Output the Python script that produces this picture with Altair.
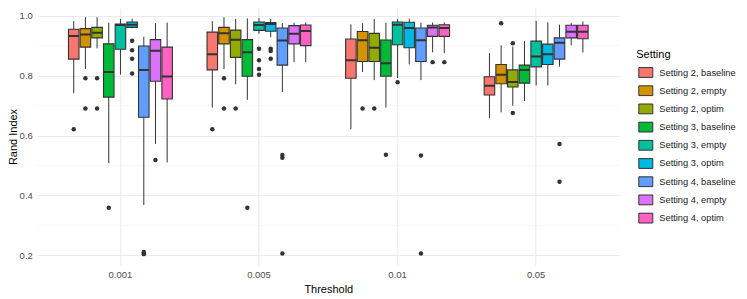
import altair as alt
import pandas as pd

thresholds = ["0.001", "0.005", "0.01", "0.05"]
settings = ["Setting 2, baseline", "Setting 2, empty", "Setting 2, optim",
            "Setting 3, baseline", "Setting 3, empty", "Setting 3, optim",
            "Setting 4, baseline", "Setting 4, empty", "Setting 4, optim"]
colors = ["#F8766D", "#D39200", "#93AA00", "#00BA38", "#00C19F",
          "#00B9E3", "#619CFF", "#DB72FB", "#FF61C3"]

# box statistics, threshold-major, setting-minor
lo = [0.741, 0.822, 0.891, 0.508, 0.803, 0.958, 0.368, 0.572, 0.510,
      0.693, 0.822, 0.771, 0.719, 0.940, 0.928, 0.745, 0.845, 0.845,
      0.621, 0.812, 0.785, 0.693, 0.792, 0.837, 0.785, 0.878, 0.875,
      0.658, 0.677, 0.699, 0.715, 0.767, 0.767, 0.830, 0.901, 0.877]
q1 = [0.855, 0.895, 0.926, 0.728, 0.888, 0.961, 0.661, 0.781, 0.722,
      0.819, 0.906, 0.861, 0.798, 0.951, 0.948, 0.835, 0.906, 0.900,
      0.791, 0.847, 0.847, 0.798, 0.903, 0.893, 0.847, 0.931, 0.931,
      0.735, 0.773, 0.762, 0.775, 0.829, 0.837, 0.855, 0.926, 0.923]
med = [0.932, 0.937, 0.943, 0.812, 0.969, 0.970, 0.819, 0.883, 0.797,
       0.871, 0.941, 0.920, 0.878, 0.969, 0.972, 0.917, 0.940, 0.949,
       0.851, 0.918, 0.893, 0.841, 0.970, 0.959, 0.918, 0.961, 0.959,
       0.766, 0.803, 0.779, 0.819, 0.864, 0.871, 0.910, 0.946, 0.946]
q3 = [0.955, 0.957, 0.961, 0.906, 0.972, 0.979, 0.899, 0.920, 0.895,
      0.945, 0.961, 0.952, 0.920, 0.979, 0.977, 0.959, 0.967, 0.969,
      0.922, 0.947, 0.941, 0.919, 0.979, 0.978, 0.959, 0.968, 0.970,
      0.796, 0.837, 0.819, 0.835, 0.915, 0.905, 0.926, 0.968, 0.968]
hi = [0.982, 0.995, 0.995, 0.977, 0.989, 0.990, 0.930, 0.975, 0.977,
      0.982, 0.995, 0.989, 0.991, 0.992, 0.989, 0.975, 0.977, 0.978,
      0.971, 0.975, 0.989, 0.977, 0.989, 0.990, 0.977, 0.977, 0.978,
      0.875, 0.901, 0.897, 0.915, 0.983, 0.978, 0.970, 0.975, 0.981]

# outliers: threshold, setting index, value
out_threshold = ["0.001"] * 14 + ["0.005"] * 15 + ["0.01"] * 8 + ["0.05"] * 5
out_setting_idx = [0, 1, 1, 2, 2, 3, 5, 5, 5, 5, 6, 6, 7, 6,
                   0, 1, 1, 2, 3, 4, 4, 4, 4, 5, 5, 5, 6, 6, 6,
                   1, 2, 3, 4, 6, 6, 7, 8,
                   1, 2, 2, 6, 6]
out_value = [0.621, 0.791, 0.690, 0.791, 0.690, 0.359, 0.916, 0.885, 0.856, 0.807,
             0.208, 0.204, 0.518, 0.211,
             0.621, 0.791, 0.690, 0.690, 0.359, 0.890, 0.851, 0.822, 0.803,
             0.890, 0.882, 0.856, 0.535, 0.526, 0.206,
             0.690, 0.690, 0.536, 0.778, 0.533, 0.206, 0.845, 0.845,
             0.975, 0.908, 0.675, 0.572, 0.446]

box_rows = []
i = 0
for t in thresholds:
    for s in settings:
        box_rows.append({"threshold": t, "setting": s, "lo": lo[i], "q1": q1[i],
                         "med": med[i], "q3": q3[i], "hi": hi[i]})
        i += 1
boxes = pd.DataFrame(box_rows)
outl = pd.DataFrame({"threshold": out_threshold,
                     "setting": [settings[k] for k in out_setting_idx],
                     "value": out_value})
minor = pd.DataFrame({"v": [0.3, 0.5, 0.7, 0.9]})

ydom = [0.1677, 1.0257]
xenc = alt.X("threshold:N", sort=thresholds, title="Threshold",
             scale=alt.Scale(domain=thresholds, paddingInner=0.25, paddingOuter=0.225),
             axis=alt.Axis(labelAngle=0, grid=True, bandPosition=0.5, ticks=False,
                           domain=False, labelPadding=5, titlePadding=4))
xoff = alt.XOffset("setting:N", sort=settings,
                   scale=alt.Scale(domain=settings, paddingInner=0.1, paddingOuter=0.0))
yscale = alt.Scale(domain=ydom, nice=False, zero=False)

grid_minor = alt.Chart(minor).mark_rule(color="#f3f3f3", strokeWidth=0.6).encode(
    y=alt.Y("v:Q", scale=yscale))

whisk = alt.Chart(boxes).mark_rule(color="#333333", strokeWidth=1).encode(
    x=xenc, xOffset=xoff,
    y=alt.Y("lo:Q", scale=yscale, title="Rand Index",
            axis=alt.Axis(values=[0.2, 0.4, 0.6, 0.8, 1.0], format=".1f", ticks=False,
                          domain=False, labelPadding=5, titleX=-20.5,
                          titleBaseline="alphabetic")),
    y2="hi:Q")

box = alt.Chart(boxes).mark_bar(stroke="#333333", strokeWidth=1.1).encode(
    x=xenc, xOffset=xoff,
    y=alt.Y("q1:Q", scale=yscale),
    y2="q3:Q",
    fill=alt.Fill("setting:N", sort=settings, title="Setting",
                  scale=alt.Scale(domain=settings, range=colors),
                  legend=alt.Legend(orient="none", legendX=599, legendY=41,
                                    symbolType="M-1,-0.7L1,-0.7L1,0.7L-1,0.7Z",
                                    symbolSize=196, symbolStrokeColor="#333333",
                                    symbolStrokeWidth=1, symbolOffset=2, labelOffset=6,
                                    rowPadding=3.2, titlePadding=5)))

median = alt.Chart(boxes).mark_bar(stroke="#333333", strokeWidth=2, fill="#333333").encode(
    x=xenc, xOffset=xoff,
    y=alt.Y("med:Q", scale=yscale),
    y2="med:Q")

pts = alt.Chart(outl).mark_circle(color="#333333", opacity=1, size=20).encode(
    x=xenc, xOffset=xoff,
    y=alt.Y("value:Q", scale=yscale))

chart = alt.layer(grid_minor, whisk, box, median, pts).properties(
    width=582, height=257, background="white",
    autosize=alt.AutoSizeParams(type="none"),
    padding={"left": 29.3, "top": 0, "right": 118, "bottom": 33}
).configure_view(stroke=None).configure_axis(
    gridColor="#ebebeb", gridWidth=1.1, labelColor="#4d4d4d", labelFontSize=9.5,
    labelFont="Liberation Sans", titleFont="Liberation Sans", titleFontSize=11,
    titleFontWeight="normal", titleColor="#000000"
).configure_legend(
    labelFont="Liberation Sans", titleFont="Liberation Sans", labelFontSize=9.3,
    titleFontSize=11, titleFontWeight="normal", labelColor="#1a1a1a", titleColor="#000000"
)

chart.save("out.html", embed_options={"renderer": "svg", "actions": False})
